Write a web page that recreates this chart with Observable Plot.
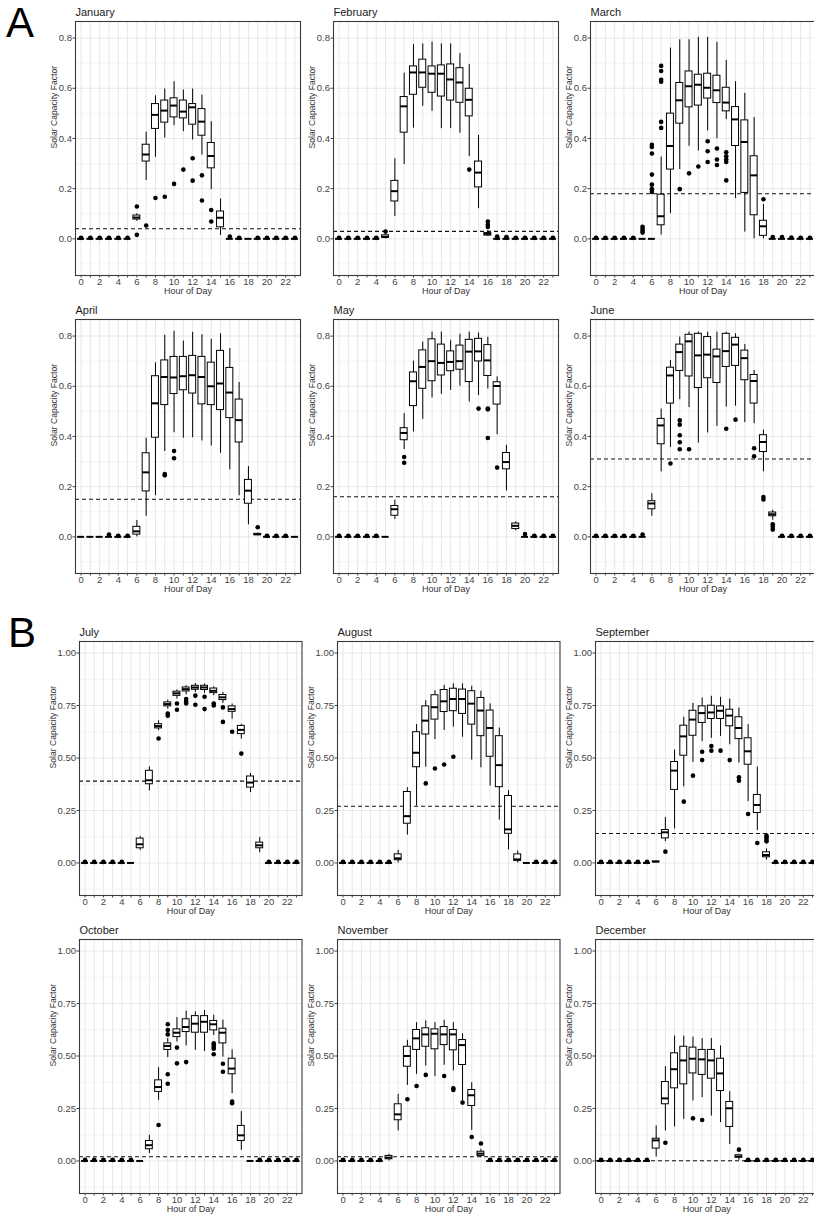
<!DOCTYPE html>
<html>
<head>
<meta charset="utf-8">
<script src="https://cdn.jsdelivr.net/npm/d3@7"></script>
<script src="https://cdn.jsdelivr.net/npm/@observablehq/plot@0.6"></script>
<style>
  body { margin: 0; background: #fff; font-family: "Liberation Sans", Arial, sans-serif; }
  #fig { position: relative; width: 814px; height: 1217px; overflow: hidden; background: #fff; }
  #fig svg { position: absolute; }
  .tag { position: absolute; font-size: 42px; line-height: 1; color: #000; }
</style>
</head>
<body>
<div id="fig">
  <div class="tag" style="left:6px;top:2px">A</div>
  <div class="tag" style="left:8px;top:612px">B</div>
</div>
<script>
// Monthly hourly solar capacity factor distributions.
// Box rows: [hour, lower whisker, Q1, median, Q3, upper whisker]; hours not listed are flat at zero.
// Outliers: [hour, value]. Zero dots: hours with a point sitting just above zero.
const months = ["January", "February", "March", "April", "May", "June",
                "July", "August", "September", "October", "November", "December"];
const meanLines = [0.04, 0.03, 0.18, 0.15, 0.16, 0.31, 0.39, 0.27, 0.14, 0.02, 0.02, 0.001];

const janBox = [
  [6, 0.070, 0.077, 0.085, 0.093, 0.100], [7, 0.232, 0.308, 0.336, 0.375, 0.425],
  [8, 0.325, 0.438, 0.494, 0.537, 0.570], [9, 0.402, 0.463, 0.511, 0.551, 0.597],
  [10, 0.451, 0.484, 0.531, 0.560, 0.626], [11, 0.427, 0.480, 0.507, 0.551, 0.593],
  [12, 0.394, 0.455, 0.524, 0.537, 0.597], [13, 0.334, 0.411, 0.467, 0.517, 0.573],
  [14, 0.196, 0.281, 0.330, 0.382, 0.467], [15, 0.013, 0.046, 0.084, 0.109, 0.159]
];
const janOut = [[6, 0.129], [6, 0.016], [7, 0.053], [8, 0.163], [9, 0.168], [10, 0.219], [11, 0.276],
  [12, 0.321], [12, 0.232], [13, 0.253], [13, 0.153], [14, 0.115], [14, 0.069], [16, 0.009]];
const janZero = [0, 1, 2, 3, 4, 5, 17, 19, 20, 21, 22, 23];

const febBox = [
  [5, 0.000, 0.004, 0.008, 0.014, 0.020], [6, 0.089, 0.149, 0.190, 0.231, 0.319],
  [7, 0.296, 0.423, 0.528, 0.565, 0.660], [8, 0.441, 0.574, 0.663, 0.687, 0.775],
  [9, 0.528, 0.602, 0.663, 0.714, 0.777], [10, 0.508, 0.582, 0.658, 0.687, 0.784],
  [11, 0.439, 0.567, 0.658, 0.691, 0.777], [12, 0.439, 0.551, 0.635, 0.695, 0.777],
  [13, 0.421, 0.542, 0.623, 0.680, 0.738], [14, 0.328, 0.488, 0.554, 0.598, 0.694],
  [15, 0.120, 0.205, 0.264, 0.308, 0.412], [16, 0.010, 0.013, 0.020, 0.023, 0.033]
];
const febOut = [[5, 0.029], [14, 0.276], [16, 0.069], [16, 0.056], [16, 0.047], [17, 0.009], [18, 0.007]];
const febZero = [0, 1, 2, 3, 4, 17, 18, 19, 20, 21, 22, 23];

const marBox = [
  [7, 0.015, 0.054, 0.090, 0.176, 0.326], [8, 0.101, 0.276, 0.370, 0.499, 0.760],
  [9, 0.276, 0.459, 0.552, 0.621, 0.793], [10, 0.369, 0.524, 0.608, 0.667, 0.793],
  [11, 0.350, 0.531, 0.614, 0.654, 0.803], [12, 0.430, 0.559, 0.602, 0.658, 0.803],
  [13, 0.399, 0.541, 0.592, 0.650, 0.783], [14, 0.475, 0.508, 0.543, 0.602, 0.711],
  [15, 0.161, 0.370, 0.476, 0.525, 0.626], [16, 0.027, 0.183, 0.386, 0.472, 0.580],
  [17, 0.000, 0.094, 0.253, 0.329, 0.483], [18, 0.000, 0.012, 0.050, 0.072, 0.137]
];
const marOut = [[5, 0.048], [5, 0.040], [5, 0.032], [5, 0.025],
  [6, 0.375], [6, 0.366], [6, 0.340], [6, 0.256], [6, 0.216], [6, 0.198], [6, 0.187],
  [7, 0.466], [7, 0.442], [7, 0.689], [7, 0.669], [7, 0.634], [7, 0.626],
  [9, 0.198], [10, 0.261], [11, 0.288], [12, 0.389], [12, 0.349], [12, 0.306],
  [13, 0.360], [13, 0.316], [13, 0.294], [14, 0.345], [14, 0.329], [14, 0.316], [14, 0.306], [14, 0.233],
  [18, 0.158], [19, 0.007], [20, 0.007], [21, 0.005]];
const marZero = [0, 1, 2, 3, 4, 22, 23];

const aprBox = [
  [6, 0.000, 0.009, 0.022, 0.040, 0.065], [7, 0.082, 0.181, 0.257, 0.333, 0.393],
  [8, 0.164, 0.395, 0.532, 0.640, 0.693], [9, 0.340, 0.525, 0.637, 0.703, 0.803],
  [10, 0.415, 0.569, 0.635, 0.717, 0.819], [11, 0.393, 0.584, 0.640, 0.717, 0.780],
  [12, 0.395, 0.571, 0.644, 0.721, 0.815], [13, 0.382, 0.528, 0.637, 0.717, 0.805],
  [14, 0.362, 0.525, 0.600, 0.694, 0.787], [15, 0.333, 0.505, 0.611, 0.741, 0.809],
  [16, 0.267, 0.473, 0.575, 0.673, 0.750], [17, 0.164, 0.376, 0.465, 0.547, 0.615],
  [18, 0.048, 0.132, 0.184, 0.227, 0.280], [19, 0.005, 0.007, 0.010, 0.012, 0.015]
];
const aprOut = [[3, 0.009], [9, 0.250], [9, 0.245], [10, 0.342], [10, 0.313], [19, 0.038]];
const aprZero = [4, 5, 20, 21, 22];

const mayBox = [
  [6, 0.069, 0.084, 0.110, 0.123, 0.146], [7, 0.348, 0.385, 0.414, 0.433, 0.491],
  [8, 0.418, 0.521, 0.620, 0.655, 0.700], [9, 0.468, 0.590, 0.677, 0.743, 0.776],
  [10, 0.553, 0.620, 0.700, 0.787, 0.816], [11, 0.568, 0.643, 0.693, 0.766, 0.816],
  [12, 0.584, 0.660, 0.697, 0.739, 0.783], [13, 0.600, 0.666, 0.700, 0.762, 0.807],
  [14, 0.537, 0.617, 0.738, 0.785, 0.816], [15, 0.563, 0.699, 0.739, 0.789, 0.812],
  [16, 0.589, 0.641, 0.703, 0.764, 0.795], [17, 0.407, 0.527, 0.601, 0.616, 0.637],
  [18, 0.183, 0.269, 0.298, 0.334, 0.365], [19, 0.024, 0.031, 0.044, 0.053, 0.060]
];
const mayOut = [[7, 0.318], [7, 0.295], [15, 0.511], [16, 0.511], [16, 0.508], [16, 0.394], [17, 0.276], [20, 0.011]];
const mayZero = [0, 1, 2, 3, 4, 21, 22, 23];

const junBox = [
  [6, 0.082, 0.110, 0.133, 0.142, 0.172], [7, 0.259, 0.369, 0.444, 0.470, 0.509],
  [8, 0.356, 0.531, 0.643, 0.674, 0.703], [9, 0.547, 0.661, 0.736, 0.766, 0.796],
  [10, 0.515, 0.639, 0.779, 0.805, 0.816], [11, 0.374, 0.593, 0.723, 0.809, 0.816],
  [12, 0.414, 0.632, 0.726, 0.796, 0.816], [13, 0.440, 0.613, 0.719, 0.746, 0.816],
  [14, 0.517, 0.677, 0.740, 0.809, 0.816], [15, 0.521, 0.681, 0.766, 0.793, 0.809],
  [16, 0.455, 0.624, 0.712, 0.742, 0.766], [17, 0.451, 0.531, 0.621, 0.645, 0.663],
  [18, 0.259, 0.338, 0.378, 0.405, 0.425], [19, 0.066, 0.082, 0.090, 0.097, 0.106]
];
const junOut = [[5, 0.009], [8, 0.292], [9, 0.464], [9, 0.447], [9, 0.405], [9, 0.377], [9, 0.349],
  [10, 0.349], [14, 0.431], [15, 0.467], [17, 0.353], [17, 0.321], [18, 0.159], [18, 0.149],
  [19, 0.050], [19, 0.040], [19, 0.029]];
const junZero = [0, 1, 2, 3, 4, 20, 21, 22, 23];

const julBox = [
  [6, 0.060, 0.070, 0.089, 0.116, 0.126], [7, 0.343, 0.375, 0.394, 0.439, 0.458],
  [8, 0.630, 0.641, 0.652, 0.661, 0.677], [9, 0.733, 0.746, 0.757, 0.765, 0.776],
  [10, 0.781, 0.796, 0.808, 0.816, 0.824], [11, 0.801, 0.817, 0.828, 0.836, 0.844],
  [12, 0.812, 0.825, 0.836, 0.844, 0.855], [13, 0.808, 0.824, 0.836, 0.844, 0.852],
  [14, 0.797, 0.809, 0.820, 0.831, 0.839], [15, 0.760, 0.776, 0.789, 0.800, 0.812],
  [16, 0.685, 0.720, 0.733, 0.746, 0.757], [17, 0.590, 0.614, 0.634, 0.653, 0.661],
  [18, 0.335, 0.359, 0.383, 0.412, 0.426], [19, 0.049, 0.070, 0.084, 0.097, 0.121]
];
const julOut = [[8, 0.593], [9, 0.712], [9, 0.701], [10, 0.760], [10, 0.730], [11, 0.781], [11, 0.769],
  [11, 0.760], [12, 0.797], [12, 0.754], [13, 0.792], [13, 0.733], [14, 0.760], [14, 0.750],
  [15, 0.741], [15, 0.672], [16, 0.625], [17, 0.521]];
const julZero = [0, 1, 2, 3, 4, 20, 21, 22, 23];

const augBox = [
  [6, 0.000, 0.013, 0.022, 0.041, 0.060], [7, 0.133, 0.187, 0.223, 0.338, 0.358],
  [8, 0.271, 0.456, 0.525, 0.623, 0.659], [9, 0.456, 0.612, 0.678, 0.746, 0.773],
  [10, 0.588, 0.683, 0.742, 0.799, 0.821], [11, 0.631, 0.719, 0.770, 0.824, 0.846],
  [12, 0.647, 0.723, 0.781, 0.830, 0.853], [13, 0.599, 0.710, 0.781, 0.826, 0.853],
  [14, 0.490, 0.659, 0.759, 0.818, 0.842], [15, 0.453, 0.604, 0.726, 0.786, 0.818],
  [16, 0.366, 0.506, 0.643, 0.726, 0.758], [17, 0.204, 0.361, 0.466, 0.604, 0.643],
  [18, 0.062, 0.139, 0.160, 0.319, 0.345], [19, 0.000, 0.010, 0.017, 0.041, 0.057]
];
const augOut = [[9, 0.379], [10, 0.450], [11, 0.469], [12, 0.506]];
const augZero = [0, 1, 2, 3, 4, 5, 21, 22, 23];

const sepBox = [
  [6, 0.004, 0.005, 0.006, 0.007, 0.008],
  [7, 0.102, 0.117, 0.146, 0.157, 0.217], [8, 0.162, 0.348, 0.440, 0.481, 0.538],
  [9, 0.363, 0.511, 0.603, 0.654, 0.694], [10, 0.479, 0.606, 0.683, 0.725, 0.760],
  [11, 0.578, 0.667, 0.714, 0.746, 0.786], [12, 0.594, 0.686, 0.717, 0.749, 0.794],
  [13, 0.603, 0.686, 0.725, 0.746, 0.789], [14, 0.563, 0.651, 0.702, 0.730, 0.781],
  [15, 0.476, 0.590, 0.643, 0.694, 0.738], [16, 0.292, 0.468, 0.532, 0.594, 0.659],
  [17, 0.154, 0.238, 0.276, 0.324, 0.457], [18, 0.014, 0.027, 0.038, 0.051, 0.067]
];
const sepOut = [[7, 0.054], [9, 0.292], [10, 0.416], [11, 0.530], [11, 0.490], [12, 0.557], [12, 0.535],
  [13, 0.535], [14, 0.490], [15, 0.408], [15, 0.392], [16, 0.233], [17, 0.095],
  [18, 0.130], [18, 0.122], [18, 0.111], [18, 0.103]];
const sepZero = [0, 1, 2, 3, 4, 5, 19, 20, 21, 22, 23];

const octBox = [
  [7, 0.035, 0.056, 0.075, 0.095, 0.122], [8, 0.289, 0.329, 0.352, 0.384, 0.444],
  [9, 0.492, 0.529, 0.548, 0.560, 0.583], [10, 0.567, 0.590, 0.611, 0.627, 0.683],
  [11, 0.548, 0.614, 0.638, 0.675, 0.714], [12, 0.527, 0.611, 0.654, 0.690, 0.710],
  [13, 0.521, 0.611, 0.663, 0.690, 0.717], [14, 0.598, 0.622, 0.651, 0.667, 0.694],
  [15, 0.495, 0.560, 0.611, 0.630, 0.671], [16, 0.321, 0.413, 0.440, 0.487, 0.529],
  [17, 0.051, 0.095, 0.122, 0.167, 0.235]
];
const octOut = [[8, 0.171], [9, 0.651], [9, 0.624], [9, 0.603], [9, 0.413], [9, 0.368], [10, 0.540],
  [10, 0.465], [11, 0.471], [14, 0.560], [14, 0.552], [14, 0.543], [14, 0.535], [14, 0.508],
  [15, 0.463], [15, 0.425], [16, 0.283], [16, 0.275]];
const octZero = [0, 1, 2, 3, 4, 5, 19, 20, 21, 22, 23];

const novBox = [
  [5, 0.000, 0.008, 0.016, 0.024, 0.032], [6, 0.143, 0.194, 0.222, 0.270, 0.317],
  [7, 0.360, 0.449, 0.500, 0.544, 0.575], [8, 0.413, 0.529, 0.584, 0.624, 0.659],
  [9, 0.452, 0.544, 0.603, 0.632, 0.667], [10, 0.402, 0.532, 0.606, 0.627, 0.659],
  [11, 0.456, 0.552, 0.603, 0.638, 0.670], [12, 0.429, 0.527, 0.603, 0.624, 0.659],
  [13, 0.286, 0.457, 0.552, 0.576, 0.606], [14, 0.146, 0.262, 0.313, 0.338, 0.373],
  [15, 0.016, 0.024, 0.035, 0.044, 0.056]
];
const novOut = [[7, 0.294], [8, 0.357], [9, 0.410], [11, 0.405], [12, 0.346], [12, 0.338],
  [13, 0.278], [14, 0.114], [15, 0.083]];
const novZero = [0, 1, 2, 3, 4, 16, 17, 18, 19, 20, 21, 22, 23];

const decBox = [
  [6, 0.019, 0.059, 0.098, 0.106, 0.167], [7, 0.143, 0.270, 0.298, 0.376, 0.449],
  [8, 0.162, 0.346, 0.437, 0.513, 0.595], [9, 0.198, 0.365, 0.479, 0.544, 0.595],
  [10, 0.286, 0.417, 0.487, 0.540, 0.590], [11, 0.302, 0.410, 0.484, 0.529, 0.583],
  [12, 0.214, 0.392, 0.479, 0.529, 0.583], [13, 0.183, 0.333, 0.417, 0.487, 0.548],
  [14, 0.079, 0.162, 0.251, 0.281, 0.330], [15, 0.003, 0.016, 0.021, 0.027, 0.032]
];
const decOut = [[5, 0.006], [7, 0.087], [10, 0.203], [11, 0.195], [15, 0.054]];
const decZero = [0, 1, 2, 3, 4, 16, 17, 18, 19, 20, 21, 22, 23];

const hours = d3.range(24);
const xTicksLabelled = (d) => (d % 2 ? "" : String(d));

// Two scale layouts: panels of part A use a 0–0.8 axis, part B a 0–1.00 axis.
const layoutA = {
  left: 75, width: 225, domain: [-0.146, 0.866],
  ticks: [0, 0.2, 0.4, 0.6, 0.8], minor: [-0.1, 0.1, 0.3, 0.5, 0.7],
  fmt: d3.format(".1f"), titleDx: -21.5, zeroY: 0.004
};
const layoutB = {
  left: 79.3, width: 222.5, domain: [-0.155, 1.055],
  ticks: [0, 0.25, 0.5, 0.75, 1], minor: [-0.125, 0.125, 0.375, 0.625, 0.875],
  fmt: d3.format(".2f"), titleDx: -26, zeroY: 0.005
};
const rowTops = [21, 319, 641, 939];
const colStep = 257.7;
const panelH = 254;
const M = {left: 38, right: 2, top: 16, bottom: 24};

const panels = [
  {box: janBox, out: janOut, zero: janZero}, {box: febBox, out: febOut, zero: febZero},
  {box: marBox, out: marOut, zero: marZero}, {box: aprBox, out: aprOut, zero: aprZero},
  {box: mayBox, out: mayOut, zero: mayZero}, {box: junBox, out: junOut, zero: junZero},
  {box: julBox, out: julOut, zero: julZero}, {box: augBox, out: augOut, zero: augZero},
  {box: sepBox, out: sepOut, zero: sepZero}, {box: octBox, out: octOut, zero: octZero},
  {box: novBox, out: novOut, zero: novZero}, {box: decBox, out: decOut, zero: decZero}
];

function boxTable(box) {
  const byHour = new Map(box.map((r) => [r[0], r]));
  return hours.map((h) => {
    const r = byHour.get(h) || [h, 0, 0, 0, 0, 0];
    return {hour: h, lo: r[1], q1: r[2], med: r[3], q3: r[4], hi: r[5]};
  });
}

const fig = document.getElementById("fig");
const half = 0.375;

panels.forEach((p, i) => {
  const row = Math.floor(i / 3), col = i % 3;
  const L = row < 2 ? layoutA : layoutB;
  const rows = boxTable(p.box);
  const chart = Plot.plot({
    width: L.width + M.left + M.right,
    height: panelH + M.top + M.bottom,
    marginLeft: M.left, marginRight: M.right, marginTop: M.top, marginBottom: M.bottom,
    style: {background: "transparent", overflow: "visible",
            fontFamily: "'Liberation Sans', Arial, sans-serif", fontSize: "9.5px"},
    x: {domain: [-0.6, 23.6]},
    y: {domain: L.domain},
    marks: [
      Plot.gridY(L.minor, {stroke: "#f2f2f2", strokeOpacity: 1, strokeWidth: 0.8}),
      Plot.gridX(hours, {stroke: "#e4e4e4", strokeOpacity: 1, strokeWidth: 0.9}),
      Plot.gridY(L.ticks, {stroke: "#e4e4e4", strokeOpacity: 1, strokeWidth: 0.9}),
      Plot.ruleY([meanLines[i]], {stroke: "#111", strokeWidth: 1.1, strokeDasharray: "4,3"}),
      Plot.ruleX(rows, {x: "hour", y1: "lo", y2: "q1", stroke: "#000", strokeWidth: 1}),
      Plot.ruleX(rows, {x: "hour", y1: "q3", y2: "hi", stroke: "#000", strokeWidth: 1}),
      Plot.rect(rows.filter((d) => d.q3 > d.q1), {
        x1: (d) => d.hour - half, x2: (d) => d.hour + half, y1: "q1", y2: "q3",
        fill: "#fff", stroke: "#000", strokeWidth: 1
      }),
      Plot.ruleY(rows, {y: "med", x1: (d) => d.hour - half, x2: (d) => d.hour + half, stroke: "#000", strokeWidth: 2}),
      Plot.dot(p.zero, {x: (d) => d, y: () => L.zeroY, r: 2.4, fill: "#000", stroke: "none"}),
      Plot.dot(p.out, {x: (d) => d[0], y: (d) => d[1], r: 2.3, fill: "#000", stroke: "none"}),
      Plot.frame({stroke: "#3a3a3a", strokeWidth: 1.1}),
      Plot.axisY(L.ticks, {tickFormat: L.fmt, tickSize: 2.5, tickPadding: 1, label: null, color: "#444", fontSize: 9.5}),
      Plot.axisX(hours, {tickFormat: xTicksLabelled, tickSize: 2.5, tickPadding: 0, label: null, color: "#444", fontSize: 9.5}),
      Plot.text([months[i]], {frameAnchor: "top-left", dy: -9.5, textAnchor: "start", lineAnchor: "middle",
        fontSize: 11, fontWeight: "normal", fill: "#1a1a1a"}),
      Plot.text(["Solar Capacity Factor"], {frameAnchor: "left", dx: L.titleDx, rotate: -90,
        lineAnchor: "middle", fontSize: 8.6, fontWeight: "normal", fill: "#333"}),
      Plot.text(["Hour of Day"], {frameAnchor: "bottom", dy: 15.5, lineAnchor: "middle",
        fontSize: 9, fontWeight: "normal", fill: "#333"})
    ]
  });
  chart.style.left = (L.left + col * colStep - M.left) + "px";
  chart.style.top = (rowTops[row] - M.top) + "px";
  fig.appendChild(chart);
});
</script>
</body>
</html>
